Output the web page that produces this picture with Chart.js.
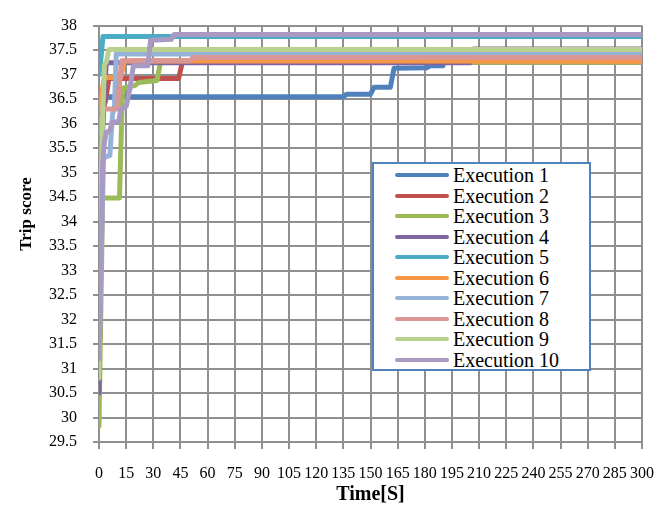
<!DOCTYPE html>
<html>
<head>
<meta charset="utf-8">
<script src="https://cdn.jsdelivr.net/npm/chart.js@4/dist/chart.umd.min.js"></script>
<style>
  html, body { margin: 0; padding: 0; background: #fff; }
  #wrap { position: relative; width: 669px; height: 508px; }
  #c { position: absolute; left: 0; top: 0; }
  #legend { position: absolute; left: 372px; top: 162px; width: 215px; height: 205px; border: 2px solid #4f81bd; background: #fff; }
  .lg-line { position: absolute; height: 4px; border-radius: 2px; }
  .lg-text { position: absolute; font-family: "Liberation Serif", "Times New Roman", serif; font-size: 20px; line-height: 20px; color: #000; white-space: nowrap; }
</style>
</head>
<body>
<div id="wrap">
  <canvas id="c" width="669" height="508"></canvas>
  <div id="legend"></div>
</div>
<script>
// ---- data ----
const seriesNames = ["Execution 1","Execution 2","Execution 3","Execution 4","Execution 5",
                     "Execution 6","Execution 7","Execution 8","Execution 9","Execution 10"];
const seriesColors = ["#4f81bd","#c0504d","#9bbb59","#8064a2","#4bacc6",
                      "#f79646","#95b3d7","#d99694","#b9d08f","#a99ac4"];

const e1T = [0, 2, 135, 137, 150, 152, 161, 163, 181, 183, 190];
const e1V = [36.0, 36.55, 36.55, 36.6, 36.6, 36.74, 36.74, 37.13, 37.14, 37.18, 37.18];

const e2T = [0, 3.5, 5.5, 44, 46, 300];
const e2V = [36.0, 36.45, 36.92, 36.92, 37.25, 37.25];

const e3T = [0, 2, 11.3, 13, 20, 22, 32, 34, 300];
const e3V = [29.82, 34.48, 34.48, 36.72, 36.78, 36.84, 36.88, 37.25, 37.25];

const e4T = [0, 1.5, 4, 205, 207, 300];
const e4V = [30.5, 35.5, 37.24, 37.24, 37.52, 37.52];

const e5T = [0, 1, 2.2, 300];
const e5V = [37.0, 37.3, 37.78, 37.78];

const e6T = [0, 3, 12, 14, 300];
const e6V = [36.3, 36.94, 36.94, 37.28, 37.27];

const e7T = [0, 2.5, 6, 7.5, 8.5, 9.5, 300];
const e7V = [31.3, 35.3, 35.35, 36.2, 36.3, 37.42, 37.42];

const e8T = [0, 2, 10, 12.5, 50, 52, 300];
const e8V = [35.8, 36.3, 36.3, 37.28, 37.28, 37.35, 37.35];

const e9T = [0, 1.5, 3, 4, 5.5, 300];
const e9V = [30.8, 35.5, 37.2, 37.25, 37.51, 37.51];

const e10T = [0, 1.5, 2, 3, 4, 6, 7, 11, 12, 15, 17, 19, 27, 28.5, 40, 41.5, 300];
const e10V = [31.2, 34.0, 35.2, 35.62, 35.82, 35.85, 36.02, 36.05, 36.3, 36.35, 36.7, 37.18, 37.18, 37.7, 37.72, 37.82, 37.82];

const xMin = 0, xMax = 300, xStep = 15;
const yMin = 29.5, yMax = 38, yStep = 0.5;
const xTitle = 'Time[S]';
const yTitle = 'Trip score';

const allT = [e1T, e2T, e3T, e4T, e5T, e6T, e7T, e8T, e9T, e10T];
const allV = [e1V, e2V, e3V, e4V, e5V, e6V, e7V, e8V, e9V, e10V];

// ---- chart ----
const serif = '"Liberation Serif", "Times New Roman", serif';
const gridColor = '#8f8f8f';
Chart.defaults.font.family = serif;

const datasets = seriesNames.map((name, i) => ({
  label: name,
  data: allT[i].map((t, k) => ({ x: t, y: allV[i][k] })),
  borderColor: seriesColors[i],
  backgroundColor: seriesColors[i],
  borderWidth: 5,
  pointRadius: 0,
  pointHoverRadius: 0,
  tension: 0,
  fill: false,
  borderJoinStyle: 'round',
  borderCapStyle: 'round',
  order: seriesNames.length - i
}));

// y-axis title drawn slightly above the plot centre, as in the reference
const yTitlePlugin = {
  id: 'yTitle',
  afterDraw(chart) {
    const ctx = chart.ctx;
    ctx.save();
    ctx.translate(27, 214);
    ctx.rotate(-Math.PI / 2);
    ctx.font = 'bold 17px ' + serif;
    ctx.fillStyle = '#000';
    ctx.textAlign = 'center';
    ctx.textBaseline = 'middle';
    ctx.fillText(yTitle, 0, 0);
    ctx.restore();
  }
};

const chart = new Chart(document.getElementById('c'), {
  type: 'line',
  data: { datasets },
  plugins: [yTitlePlugin],
  options: {
    responsive: false,
    animation: false,
    devicePixelRatio: 1,
    layout: { padding: { top: 14, right: 23, left: 0, bottom: 0 } },
    plugins: { legend: { display: false }, tooltip: { enabled: false } },
    scales: {
      x: {
        type: 'linear',
        min: xMin, max: xMax,
        ticks: { stepSize: xStep, color: '#000', font: { family: serif, size: 16 }, padding: 15, maxRotation: 0, autoSkip: false,
                 callback: (v) => String(v) },
        grid: { color: gridColor, lineWidth: 2, tickLength: 7, drawTicks: true },
        border: { color: gridColor, width: 2 },
        title: { display: true, text: xTitle, color: '#000', font: { family: serif, size: 20, weight: 'bold' }, padding: { top: 0, bottom: 1 } },
        afterFit: (s) => { s.height = 66; }
      },
      y: {
        min: yMin, max: yMax,
        ticks: { stepSize: yStep, color: '#000', font: { family: serif, size: 16 }, padding: 16,
                 callback: (v) => String(Math.round(v * 10) / 10) },
        grid: { color: gridColor, lineWidth: 2, tickLength: 6, drawTicks: true },
        border: { color: gridColor, width: 2 },
        afterFit: (s) => { s.width = 99; }
      }
    }
  }
});

// ---- legend (HTML, built from the same series arrays) ----
const wrap = document.getElementById('wrap');
seriesNames.forEach((name, i) => {
  const cy = 175 + 20.55 * i;
  const line = document.createElement('div');
  line.className = 'lg-line';
  line.style.left = '395px';
  line.style.width = '54px';
  line.style.top = (cy - 2) + 'px';
  line.style.background = seriesColors[i];
  wrap.appendChild(line);
  const txt = document.createElement('div');
  txt.className = 'lg-text';
  txt.style.left = '453px';
  txt.style.top = (cy - 10) + 'px';
  txt.textContent = name;
  wrap.appendChild(txt);
});
</script>
</body>
</html>
